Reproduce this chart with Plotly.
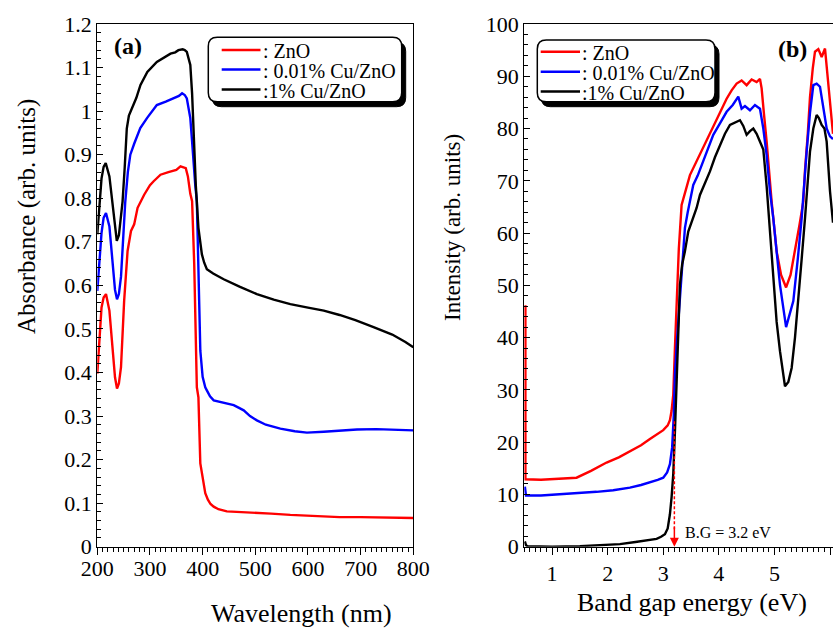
import plotly.graph_objects as go

# ---------------- data: panel (a) absorbance ----------------
wl_zno = [200, 204, 208, 212, 216.5, 223, 229, 233.6, 237.4, 241, 245, 251, 257.5, 264, 270, 276.5, 289, 300, 307,
          320, 335, 350, 358, 364, 368, 372, 376.6, 380, 384, 389, 392, 395.6, 400, 405, 410, 415, 421, 430, 446,
          470, 500, 530, 566.5, 600, 630, 660, 700, 750, 800]
abs_zno = [0.397, 0.488, 0.549, 0.572, 0.580, 0.542, 0.45, 0.389, 0.363, 0.375, 0.412, 0.565, 0.679, 0.725, 0.74,
           0.778, 0.808, 0.83, 0.839, 0.854, 0.86, 0.865, 0.873, 0.871, 0.869, 0.85, 0.81, 0.793, 0.65, 0.366,
           0.343, 0.191, 0.16, 0.123, 0.108, 0.098, 0.092, 0.086, 0.081, 0.080, 0.078, 0.076, 0.073, 0.071, 0.069,
           0.068, 0.068, 0.067, 0.066]

wl_cu001 = [200, 204, 208, 212, 216.5, 223, 229, 233.6, 237.4, 241, 245, 248, 251, 253, 258, 262.7, 270, 281.6,
            295, 313, 330, 345, 355, 361, 366, 370, 373, 376.6, 380, 383, 386, 389, 392, 395.6, 400, 405, 408,
            414, 421, 440, 459, 470, 478, 490, 503, 520, 547.5, 575, 598, 630, 660, 693, 730, 765, 800]
abs_cu001 = [0.587, 0.66, 0.72, 0.755, 0.766, 0.735, 0.65, 0.59, 0.568, 0.58, 0.62, 0.679, 0.74, 0.79, 0.86,
             0.90, 0.925, 0.961, 0.985, 1.014, 1.022, 1.029, 1.035, 1.041, 1.037, 1.029, 1.01, 0.984, 0.93, 0.87,
             0.83, 0.793, 0.64, 0.45, 0.39, 0.366, 0.359, 0.345, 0.336, 0.33, 0.325, 0.318, 0.313, 0.30, 0.29,
             0.28, 0.271, 0.265, 0.262, 0.264, 0.267, 0.269, 0.27, 0.269, 0.267]

wl_cu1 = [200, 204, 208, 212, 216, 223, 229, 233.6, 237, 241, 245, 248, 252, 256, 260, 266, 274, 282, 295, 313,
          325, 339, 348, 354, 362, 366, 370, 374, 376.6, 380, 383, 387, 392, 398.6, 403, 408, 420, 440, 470, 503,
          535, 566.5, 600, 630, 660, 690, 724.5, 760, 785, 800]
abs_cu1 = [0.717, 0.79, 0.845, 0.872, 0.881, 0.85, 0.78, 0.725, 0.702, 0.715, 0.76, 0.793, 0.87, 0.96, 0.99,
           1.006, 1.03, 1.06, 1.09, 1.113, 1.122, 1.132, 1.135, 1.14, 1.142, 1.14, 1.136, 1.12, 1.106, 1.04,
           0.946, 0.83, 0.732, 0.671, 0.652, 0.637, 0.627, 0.614, 0.597, 0.58, 0.567, 0.557, 0.549, 0.542, 0.532,
           0.52, 0.504, 0.487, 0.47, 0.458]

# ---------------- data: panel (b) band gap ----------------
e_zno = [0.52, 0.52, 0.8, 1.2, 1.44, 1.7, 1.98, 2.2, 2.4, 2.6, 2.76, 2.9, 3.0, 3.08, 3.12, 3.15, 3.18, 3.21, 3.24,
         3.28, 3.33, 3.36, 3.42, 3.48, 3.6, 3.72, 3.84, 3.96, 4.05, 4.14, 4.23, 4.32, 4.41, 4.5, 4.59, 4.68, 4.74,
         4.77, 4.81, 4.86, 4.95, 5.04, 5.12, 5.21, 5.29, 5.37, 5.45, 5.52, 5.55, 5.6, 5.64, 5.69, 5.73, 5.79,
         5.85, 5.91, 5.95, 6.0, 6.054]
int_zno = [46.2, 12.9, 12.8, 13.0, 13.2, 14.5, 16.1, 17.1, 18.3, 19.4, 20.6, 21.5, 22.3, 23.2, 24.2, 26, 29.1, 38,
           47, 57, 65.4, 66.7, 68.8, 71.1, 73.8, 76.2, 79, 81.9, 83.7, 85.7, 87.3, 88.6, 89.2, 88.3, 89.4, 88.9,
           89.5, 87.7, 83, 77.5, 66, 56.5, 52, 49.6, 52, 56.5, 61.5, 66, 72, 79, 86, 91.5, 94.7, 95.2, 93.7, 95.3,
           91, 85, 79]

e_cu001 = [0.51, 0.53, 0.8, 1.32, 1.8, 2.1, 2.4, 2.6, 2.76, 2.9, 3.0, 3.07, 3.12, 3.16, 3.19, 3.21, 3.25, 3.30,
           3.35, 3.39, 3.44, 3.48, 3.54, 3.62, 3.69, 3.8, 3.9, 4.02, 4.14, 4.25, 4.35, 4.41, 4.47, 4.56, 4.65,
           4.74, 4.8, 4.86, 4.92, 4.98, 5.1, 5.21, 5.34, 5.42, 5.49, 5.58, 5.64, 5.70, 5.76, 5.82, 5.88, 5.94,
           6.0, 6.054]
int_cu001 = [11.5, 9.8, 9.8, 10.1, 10.5, 10.8, 11.3, 11.8, 12.3, 12.8, 13.2, 14.2, 15.8, 19, 25.3, 33, 40, 47, 55,
             61, 64, 66, 69.2, 71, 73, 76, 78.8, 81, 83.2, 84.5, 86.1, 83.8, 84.3, 83.5, 84.5, 83.8, 80, 74.9,
             68, 62.8, 50.1, 42, 47, 55, 62.8, 75.6, 83, 88.3, 88.6, 88, 84, 80, 78.5, 78]

e_cu1 = [0.51, 0.53, 0.56, 1.0, 1.5, 2.0, 2.22, 2.5, 2.7, 2.88, 2.96, 3.03, 3.08, 3.12, 3.15, 3.18, 3.21, 3.24,
         3.27, 3.30, 3.34, 3.39, 3.45, 3.52, 3.60, 3.66, 3.75, 3.84, 3.93, 4.02, 4.11, 4.2, 4.29, 4.38, 4.44, 4.5,
         4.56, 4.62, 4.68, 4.74, 4.8, 4.86, 4.92, 4.98, 5.04, 5.10, 5.19, 5.25, 5.31, 5.37, 5.43, 5.49, 5.55,
         5.60, 5.64, 5.70, 5.76, 5.8, 5.85, 5.9, 5.94, 6.0, 6.054]
int_cu1 = [1.0, 0.3, 0.1, 0.0, 0.1, 0.3, 0.5, 0.9, 1.2, 1.5, 1.9, 2.4, 3.5, 6.2, 9.5, 13.9, 22, 31, 41, 50.1, 54,
           56.5, 60.3, 62.5, 64.8, 67.3, 69.5, 71.8, 74.5, 76.8, 79, 80.7, 81.2, 81.6, 80.5, 78.8, 79.5, 80, 79,
           77.5, 76, 69, 60, 50.1, 43, 37.4, 30.7, 31.5, 34.2, 40, 47, 55, 62.8, 70, 75.6, 80, 82.6, 82, 80.7, 80,
           77.5, 68, 62]

series_names = [": ZnO", ": 0.01% Cu/ZnO", ":1% Cu/ZnO"]
series_colors = ["#ff0000", "#0000ff", "#000000"]

wl_ticks = [200, 300, 400, 500, 600, 700, 800]
abs_ticks = [0, 0.1, 0.2, 0.3, 0.4, 0.5, 0.6, 0.7, 0.8, 0.9, 1.0, 1.1, 1.2]
abs_ticktext = ["0", "0.1", "0.2", "0.3", "0.4", "0.5", "0.6", "0.7", "0.8", "0.9", "1", "1.1", "1.2"]
e_ticks = [1, 2, 3, 4, 5, 6]
int_ticks = [0, 10, 20, 30, 40, 50, 60, 70, 80, 90, 100]
band_gap = 3.2

# ---------------- figure ----------------
W, H = 833, 631
FONT = "Liberation Serif, Times New Roman, Times, serif"


def px(x):
    return x / W


def py(y):
    return 1 - y / H


fig = go.Figure()
left = [(wl_zno, abs_zno), (wl_cu001, abs_cu001), (wl_cu1, abs_cu1)]
right = [(e_zno, int_zno), (e_cu001, int_cu001), (e_cu1, int_cu1)]
for (x, y), name, c in zip(left, series_names, series_colors):
    fig.add_trace(go.Scatter(x=x, y=y, mode="lines", name=name, line=dict(color=c, width=2.4),
                             xaxis="x", yaxis="y", showlegend=False))
for (x, y), name, c in zip(right, series_names, series_colors):
    fig.add_trace(go.Scatter(x=x, y=y, mode="lines", name=name, line=dict(color=c, width=2.4),
                             xaxis="x2", yaxis="y2", showlegend=False))

tickfont = dict(family=FONT, size=22, color="black")
common = dict(showline=True, linecolor="black", linewidth=1.3, showgrid=False, zeroline=False,
              tickwidth=1.3, tickcolor="black", tickfont=tickfont, automargin=False)

fig.update_layout(
    width=W, height=H, margin=dict(l=0, r=0, t=0, b=0),
    paper_bgcolor="white", plot_bgcolor="white",
    font=dict(family=FONT, color="black"),
    xaxis=dict(domain=[px(97.3), px(413.3)], range=[200, 800], tickvals=wl_ticks, ticks="outside", ticklen=7,
               ticklabelstandoff=-5,
               mirror=True, minor=dict(ticks="outside", ticklen=4, dtick=10, tickwidth=1.1, tickcolor="black"),
               anchor="y", **common),
    yaxis=dict(domain=[py(546.7), py(24)], range=[0, 1.2], tickvals=abs_ticks, ticktext=abs_ticktext,
               ticks="inside", ticklen=6, mirror=True,
               minor=dict(ticks="inside", ticklen=3.5, dtick=0.02, tickwidth=1.1, tickcolor="black"),
               anchor="x", **common),
    xaxis2=dict(domain=[px(524.3), 1.0], range=[0.5, 6.054], tickvals=e_ticks, ticks="outside", ticklen=7,
                mirror=True, minor=dict(ticks="outside", ticklen=4, dtick=0.1, tickwidth=1.1, tickcolor="black"),
                anchor="y2", **common),
    yaxis2=dict(domain=[py(546.7), py(24)], range=[0, 100], tickvals=int_ticks, ticks="inside", ticklen=6,
                mirror=False, minor=dict(ticks="inside", ticklen=3.5, dtick=2, tickwidth=1.1, tickcolor="black"),
                anchor="x2", **common),
)


def rounded_rect(x0, y0, x1, y1, r):
    pts = [("M", x0 + r, y0), ("L", x1 - r, y0), ("Q", x1, y0, x1, y0 + r), ("L", x1, y1 - r),
           ("Q", x1, y1, x1 - r, y1), ("L", x0 + r, y1), ("Q", x0, y1, x0, y1 - r), ("L", x0, y0 + r),
           ("Q", x0, y0, x0 + r, y0)]
    s = ""
    for p in pts:
        cmd = p[0]
        coords = p[1:]
        s += cmd
        s += " ".join(f"{px(coords[i]):.5f},{py(coords[i + 1]):.5f}" for i in range(0, len(coords), 2))
        s += " "
    return s + "Z"


shapes = []
annotations = []


def legend_box(x0, y0, x1, y1, line_x0, line_x1, rows):
    shapes.append(dict(type="path", xref="paper", yref="paper", path=rounded_rect(x0 + 4, y0 + 5, x1 + 4, y1 + 5, 9),
                       fillcolor="black", line=dict(color="black", width=1)))
    shapes.append(dict(type="path", xref="paper", yref="paper", path=rounded_rect(x0, y0, x1, y1, 9),
                       fillcolor="white", line=dict(color="black", width=1.5)))
    for ry, name, c in zip(rows, series_names, series_colors):
        shapes.append(dict(type="line", xref="paper", yref="paper", x0=px(line_x0), x1=px(line_x1),
                           y0=py(ry), y1=py(ry), line=dict(color=c, width=2.4)))
        annotations.append(dict(xref="paper", yref="paper", x=px(line_x1), y=py(ry + 1), xanchor="left",
                                yanchor="middle", text=name, showarrow=False,
                                font=dict(family=FONT, size=20, color="black")))


legend_box(208.3, 37.3, 401.7, 101.7, 221.7, 260.5, [50, 69.5, 89.5])
legend_box(537.3, 40, 715, 101.7, 540.7, 580, [51.7, 71.7, 91.5])

# panel labels
annotations.append(dict(xref="paper", yref="paper", x=px(128), y=py(46), text="<b>(a)</b>", showarrow=False,
                        xanchor="center", yanchor="middle", font=dict(family=FONT, size=24, color="black")))
annotations.append(dict(xref="paper", yref="paper", x=px(792.5), y=py(49), text="<b>(b)</b>", showarrow=False,
                        xanchor="center", yanchor="middle", font=dict(family=FONT, size=24, color="black")))

# axis titles
annotations.append(dict(xref="paper", yref="paper", x=px(27), y=py(217), text="Absorbance (arb. units)",
                        textangle=-90, showarrow=False, xanchor="center", yanchor="middle",
                        font=dict(family=FONT, size=25, color="black")))
annotations.append(dict(xref="paper", yref="paper", x=px(453), y=py(228), text="Intensity (arb. units)",
                        textangle=-90, showarrow=False, xanchor="center", yanchor="middle",
                        font=dict(family=FONT, size=23, color="black")))
annotations.append(dict(xref="paper", yref="paper", x=px(301), y=py(613), text="Wavelength (nm)",
                        showarrow=False, xanchor="center", yanchor="middle",
                        font=dict(family=FONT, size=26, color="black")))
annotations.append(dict(xref="paper", yref="paper", x=px(691.5), y=py(602), text="Band gap energy (eV)",
                        showarrow=False, xanchor="center", yanchor="middle",
                        font=dict(family=FONT, size=26, color="black")))

# band gap marker
shapes.append(dict(type="line", xref="x2", yref="y2", x0=band_gap, x1=band_gap, y0=24, y1=3,
                   line=dict(color="#ff0000", width=1.5, dash="3px,2px")))
annotations.append(dict(xref="x2", yref="y2", axref="x2", ayref="y2", x=band_gap, y=0, ax=band_gap, ay=4,
                        text="", showarrow=True, arrowhead=2, arrowsize=1.2, arrowwidth=1.5,
                        arrowcolor="#ff0000"))
annotations.append(dict(xref="x2", yref="y2", x=3.35, y=2.8, text="B.G = 3.2 eV", showarrow=False,
                        xanchor="left", yanchor="middle", font=dict(family=FONT, size=16, color="black")))

fig.update_layout(shapes=shapes, annotations=annotations)
fig.write_html("out.html")
